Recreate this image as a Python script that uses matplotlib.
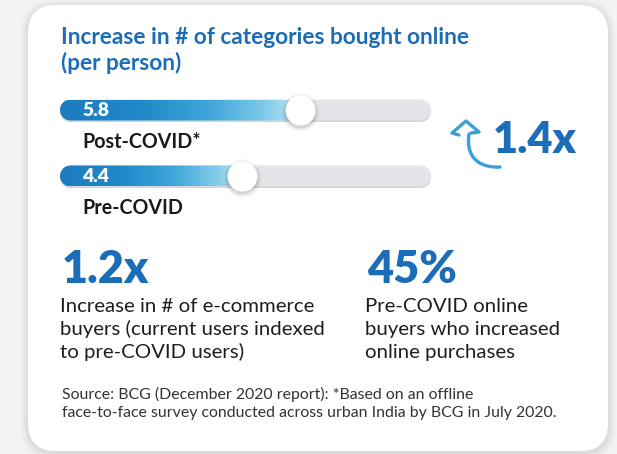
import matplotlib
matplotlib.use("Agg")
import matplotlib.pyplot as plt
import numpy as np
from matplotlib.patches import FancyBboxPatch, PathPatch
from matplotlib.path import Path
from matplotlib.colors import LinearSegmentedColormap

# ---------------- data ----------------
title_lines = ["Increase in # of categories bought online", "(per person)"]
categories = ["Post-COVID*", "Pre-COVID"]
values = [5.8, 4.4]
value_labels = ["5.8", "4.4"]
increase_label = "1.4x"
stat_values = ["1.2x", "45%"]
stat_texts = [
    ["Increase in # of e-commerce", "buyers (current users indexed", "to pre-COVID users)"],
    ["Pre-COVID online", "buyers who increased", "online purchases"],
]
source_lines = [
    "Source: BCG (December 2020 report): *Based on an offline",
    "face-to-face survey conducted across urban India by BCG in July 2020.",
]
scale_max = 8.95

W, H = 617, 454
BLUE = "#1b6db7"
FONT = "Lato"

fig = plt.figure(figsize=(W / 100, H / 100), dpi=100)
fig.patch.set_facecolor("#f3f3f3")

bg = fig.add_axes([0, 0, 1, 1])
bg.set_xlim(0, W)
bg.set_ylim(H, 0)
bg.axis("off")

# card shadow + card
for i, a in enumerate([0.015, 0.02, 0.025, 0.03]):
    g = 8 - 2 * i
    bg.add_patch(FancyBboxPatch((28 - g, 5 - g + 2), 580 + 2 * g, 446 + 2 * g,
                                boxstyle="round,pad=0,rounding_size=%d" % (28 + g),
                                fc="black", ec="none", alpha=a, zorder=0))
bg.add_patch(FancyBboxPatch((28, 5), 580, 446, boxstyle="round,pad=0,rounding_size=28",
                            fc="white", ec="none", zorder=1))

renderer = fig.canvas.get_renderer()


def fitted_size(txt, target_px, weight):
    t = bg.text(0, 0, txt, fontsize=10, family=FONT, weight=weight)
    w = t.get_window_extent(renderer).width
    t.remove()
    return 10 * target_px / w


# title
ts = fitted_size(title_lines[0], 408, "bold")
for line, yb in zip(title_lines, [44, 70]):
    bg.text(61, yb, line, fontsize=ts, family=FONT, weight="bold", color=BLUE,
            va="baseline", ha="left", zorder=5)

# ---------------- bars ----------------
AX_PX_W, AX_PX_H = 371, 132
ax = fig.add_axes([60 / W, 1 - 209 / H, AX_PX_W / W, AX_PX_H / H])
ax.set_xlim(0, scale_max)
ax.set_ylim(1.5, -0.5)
ax.axis("off")
ax.patch.set_alpha(0)

px_x = AX_PX_W / scale_max   # pixels per x unit
px_y = AX_PX_H / 2.0         # pixels per y unit
R = 10.5                     # bar half-height in px


def stadium(x0, x1, yc, r_px=R):
    """Rounded bar outline (true semicircle ends in pixels) in data coords."""
    rx, ry = r_px / px_x, r_px / px_y
    t1 = np.linspace(np.pi / 2, 3 * np.pi / 2, 30)
    t2 = np.linspace(-np.pi / 2, np.pi / 2, 30)
    left = np.column_stack([x0 + rx + rx * np.cos(t1), yc + ry * np.sin(t1)])
    right = np.column_stack([x1 - rx + rx * np.cos(t2), yc + ry * np.sin(t2)])
    pts = np.vstack([left, right, left[:1]])
    return Path(pts, closed=True)


cmap = LinearSegmentedColormap.from_list(
    "barfill", [(0, "#1c7cc0"), (0.35, "#2189c8"), (0.62, "#3ea6d9"), (0.85, "#80cae8"), (1, "#c3e8f4")])
grad = np.linspace(0, 1, 256).reshape(1, -1)

for i, v in enumerate(values):
    # track shadow and track
    ax.add_patch(PathPatch(stadium(0, scale_max, i + 1.5 / px_y), fc="#d3d4d7", ec="none", zorder=1))
    ax.add_patch(PathPatch(stadium(0, scale_max, i), fc="#e4e5e8", ec="none", zorder=2))
    # gradient fill
    fill_path = stadium(0, v + R / px_x, i)
    clip = PathPatch(fill_path, fc="none", ec="none", transform=ax.transData)
    ax.add_patch(clip)
    im = ax.imshow(grad, cmap=cmap, aspect="auto", interpolation="bilinear",
                   extent=[0, v, i + R / px_y, i - R / px_y], zorder=3)
    im.set_clip_path(clip)
    # knob shadow + knob
    for ms, a in [(28, 0.025), (26, 0.035), (24, 0.05), (22.5, 0.06)]:
        ax.plot([v], [i + 0.03], "o", ms=ms, color="black", alpha=a, mec="none", zorder=4)
    ax.plot([v], [i], "o", ms=21.6, color="white", mec="none", zorder=5)

ax.set_xlim(0, scale_max)
ax.set_ylim(1.5, -0.5)

# bar texts (drawn in the bar axes, positioned in figure pixels)
vs = fitted_size(value_labels[0], 27, "heavy")
cs = fitted_size(categories[0], 118, "bold")
for lab, cat, yb, yc in zip(value_labels, categories, [116, 182], [148, 214]):
    ax.text(82, yb, lab, fontsize=vs, family=FONT, weight="heavy", color="white",
            va="baseline", ha="left", zorder=10, transform=bg.transData, clip_on=False)
    ax.text(82, yc, cat, fontsize=cs, family=FONT, weight="bold", color="#1a1a1a",
            va="baseline", ha="left", zorder=10, transform=bg.transData, clip_on=False)

# curved arrow
ac = "#3c9fd8"
stem = Path([(469, 134), (465, 162), (485, 168), (500, 167)],
            [Path.MOVETO, Path.CURVE4, Path.CURVE4, Path.CURVE4])
bg.add_patch(PathPatch(stem, fc="none", ec=ac, lw=2.4, capstyle="round", zorder=6))
head = Path([(459, 135), (452, 133), (466, 121), (479, 132), (471, 133)])
bg.add_patch(PathPatch(head, fc="none", ec=ac, lw=2.4, capstyle="round", joinstyle="round", zorder=6))

big = fitted_size(increase_label, 84, "heavy")
bg.text(493, 153, increase_label, fontsize=big, family=FONT, weight="heavy", color=BLUE,
        va="baseline", ha="left", zorder=6)

# stats
bs = fitted_size(stat_values[0], 87, "heavy")
body = fitted_size(stat_texts[0][1], 266, "normal")
for x0, sv, lines in zip([62, 367], stat_values, stat_texts):
    bg.text(x0, 283, sv, fontsize=bs, family=FONT, weight="heavy", color=BLUE,
            va="baseline", ha="left", zorder=6)
    for line, yb in zip(lines, [312, 335, 358]):
        bg.text(x0 - 2, yb, line, fontsize=body, family=FONT, color="#1e1e1e",
                va="baseline", ha="left", zorder=6)

# source
ss = fitted_size(source_lines[1], 496, "normal")
for line, yb in zip(source_lines, [399, 417]):
    bg.text(62, yb, line, fontsize=ss, family=FONT, color="#333333",
            va="baseline", ha="left", zorder=6)

fig.savefig("out.png", dpi=100, facecolor=fig.get_facecolor())
